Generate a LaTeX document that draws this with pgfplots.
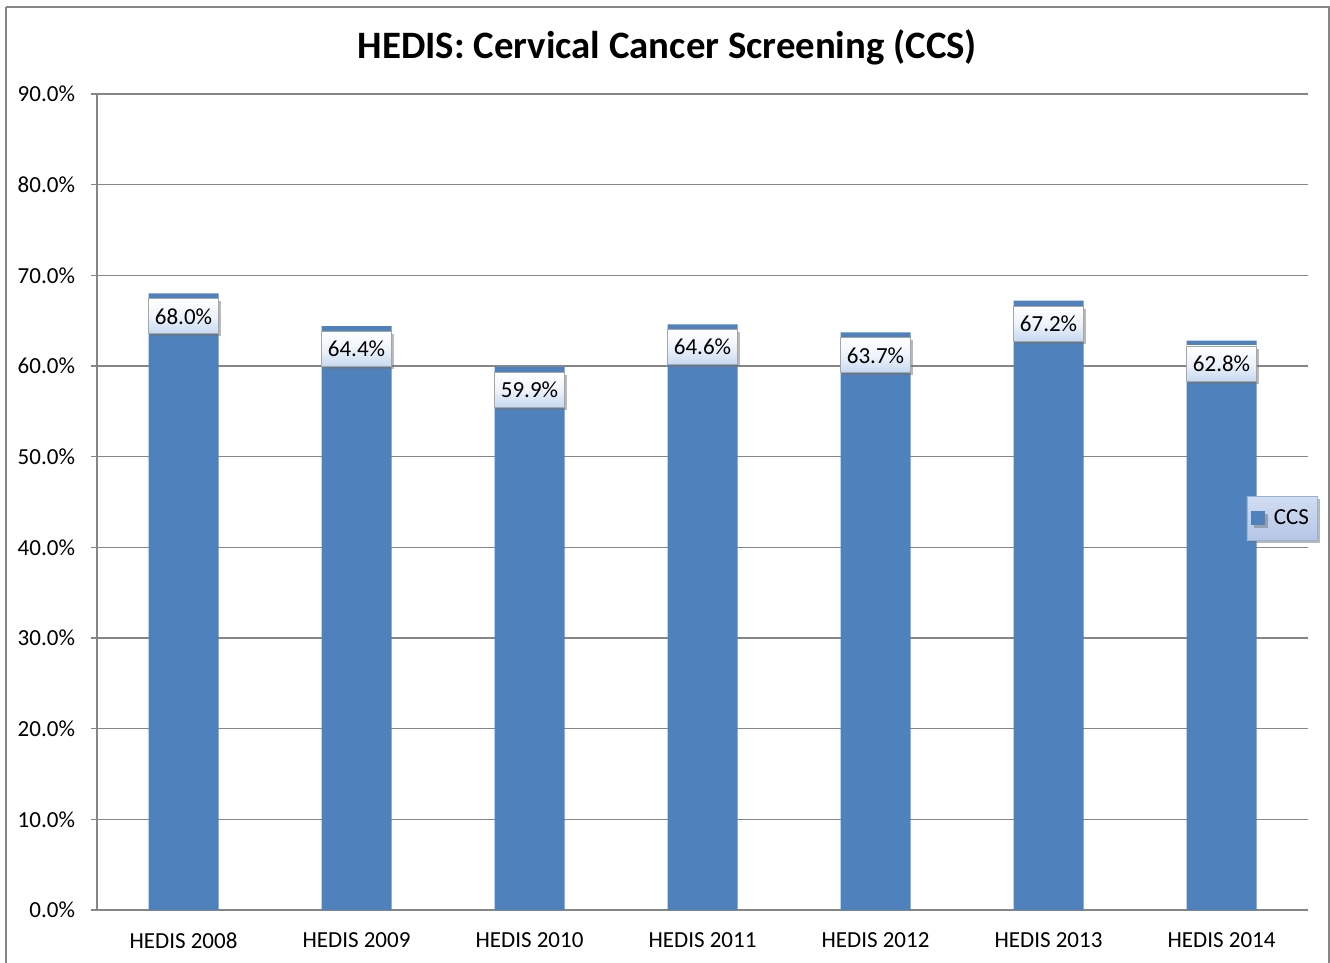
\documentclass[border=0pt]{standalone}
\usepackage{pgfplots}
\pgfplotsset{compat=1.18}
\usepackage{fontspec}
\setmainfont{Carlito}
\usetikzlibrary{shadows}

\definecolor{barblue}{HTML}{4F81BD}
\definecolor{gridgray}{HTML}{868686}
\definecolor{boxblue}{HTML}{C6D9F1}
\definecolor{legblue}{HTML}{B4C6E7}

\begin{document}
\begin{tikzpicture}
	% page = 1330 x 962 px, 1 px = 0.5bp
	\begin{scope}[x=0.5bp,y=0.5bp]
		\useasboundingbox (0,0) rectangle (1330,962);
		\clip (0,0) rectangle (1330,962);
		\draw[gridgray, line width=1bp] (6,955) -- (1329,955) -- (1329,-5);
		\draw[gridgray, line width=1bp] (6,955) -- (6,-5);
	\end{scope}
	\begin{axis}[
		at={(48.5bp,26bp)}, anchor=south west,
		scale only axis,
		width=605.5bp, height=408bp,
		ybar, bar width=35bp,
		xmin=-0.5, xmax=6.5,
		ymin=0, ymax=90,
		ytick={0,10,...,90},
		yticklabel={\pgfmathprintnumber[fixed,fixed zerofill,precision=1]{\tick}\%},
		xtick={0,...,6},
		xticklabels={HEDIS 2008,HEDIS 2009,HEDIS 2010,HEDIS 2011,HEDIS 2012,HEDIS 2013,HEDIS 2014},
		major x tick style={draw=none},
		extra x ticks={-0.5,0.5,...,6.5},
		extra x tick labels={},
		extra x tick style={major tick length=3bp, tick align=outside, major tick style={draw=gridgray, line width=0.6bp}},
		axis x line*=bottom, axis y line*=left,
		axis line style={draw=gridgray, line width=0.6bp, -},
		ymajorgrids, grid style={draw=gridgray, line width=0.6bp},
		major y tick style={draw=gridgray, line width=0.6bp},
		tick align=outside, major tick length=3bp,
		/pgf/number format/assume math mode=true,
		tick label style={font=\fontsize{11.5bp}{13bp}\selectfont, text=black},
		xticklabel style={yshift=-5bp},
		yticklabel style={xshift=-4.5bp},
		title={\textbf{HEDIS: Cervical Cancer Screening (CCS)}},
		title style={font=\fontsize{19.4bp}{22bp}\selectfont, at={(0.471,1)}, anchor=center, yshift=17.5bp},
		nodes near coords={\pgfmathprintnumber[fixed,fixed zerofill,precision=1]{\pgfplotspointmeta}\%},
		every node near coord/.append style={
			font=\fontsize{11.5bp}{13bp}\selectfont, text=black,
			anchor=north, yshift=-2.5bp,
			minimum width=35bp, minimum height=17.5bp, inner sep=1bp,
			top color=white, bottom color=boxblue, middle color=white!70!boxblue,
			draw=gray!70, line width=0.4bp,
			drop shadow={shadow xshift=1.3bp, shadow yshift=-1.3bp, fill=black!55}
		},
		legend style={
			at={(0.9785,0.48)}, anchor=center,
			font=\fontsize{11.5bp}{13bp}\selectfont,
			top color=white!40!legblue, bottom color=legblue,
			draw=barblue!60, line width=0.4bp,
			minimum height=18bp, inner xsep=2bp, inner ysep=2bp,
			drop shadow={shadow xshift=1.3bp, shadow yshift=-1.3bp, fill=black!55}
		},
		legend image code/.code={
			\fill[barblue] (0bp,-3.5bp) rectangle (7bp,3.5bp);
			\path (0bp,0bp) -- (9.5bp,0bp);
		},
	]
		\addplot[fill=barblue, draw=none] coordinates {
			(0,68.0) (1,64.4) (2,59.9) (3,64.6) (4,63.7) (5,67.2) (6,62.8)
		};
		\addlegendentry{CCS}
	\end{axis}
\end{tikzpicture}
\end{document}
